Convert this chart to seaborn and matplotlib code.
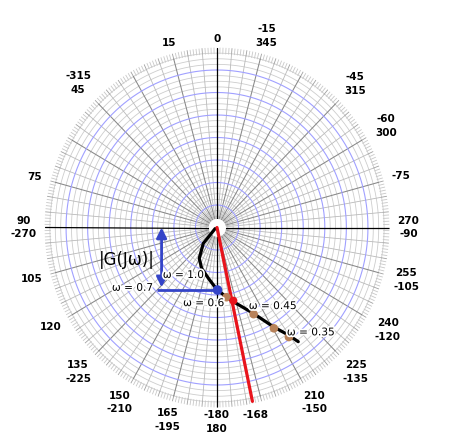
import numpy as np
import matplotlib
matplotlib.use("Agg")
import matplotlib.pyplot as plt
import matplotlib.patheffects as pe
import seaborn as sns
import pandas as pd

# ---------------- data ----------------
# Nyquist locus: phase angle (deg, measured CCW from top) and magnitude
curve_phase = [120, 136, 138, 149, 158.6, 169.9, 180.3, 188.3, 192.9, 203.8, 210.6, 214.7, 216.6]
curve_mag = [0.10, 0.47, 0.95, 1.60, 1.95, 2.29, 2.78, 3.13, 3.38, 4.17, 5.12, 5.81, 6.32]

# frequency marker points on the locus
marker_phase = [188.1, 203.8, 210.5, 214.4]
marker_mag = [3.13, 4.21, 5.20, 5.90]

# crossing with the -168 deg line
red_dot_phase = [193.1]
red_dot_mag = [3.34]
red_line_phase = [192, 192]
red_line_mag = [0.0, 7.9]

# |G(jw)| reference point
blue_dot_phase = [180.5]
blue_dot_mag = [2.78]
g_line_left = -2.80      # horizontal extent of the |G| projection line (real axis units)
g_arrow_x = -2.57        # real coordinate of the |G| double arrow
g_arrow_top = 0.0
g_arrow_bottom = -2.66

# annotation texts
w_labels = ["ω = 1.0", "ω = 0.7", "ω = 0.6", "ω = 0.45", "ω = 0.35"]
w_label_pos = [(-1.56, -2.11), (-3.92, -2.68), (-0.62, -3.36), (2.58, -3.49), (4.35, -4.66)]
g_label = "|G(Jω)|"
g_label_pos = (-4.19, -1.44)

# angular tick labels
tick_angles = [0, 15, 45, 75, 90, 105, 120, 135, 150, 165, 180, 192, 210, 225, 240,
               255, 270, 285, 300, 315, 345]
tick_labels = ["0", "15", "-315\n45", "75", "90\n-270", "105", "120", "135\n-225",
               "150\n-210", "165\n-195", "-180\n180", "-168", "210\n-150", "225\n-135",
               "240\n-120", "255\n-105", "270\n-90", "-75", "-60\n300", "-45\n315",
               "-15\n345"]

# ---------------- style ----------------
sns.set_style("white")
plt.rcParams["font.family"] = ["DejaVu Sans"]

W, H = 459, 445
fig = plt.figure(figsize=(W / 100, H / 100), dpi=100)
cx, cy = 217.0, 227.5          # centre in pixels (from top-left)
rx, ry = 172.5, 180.0          # outer radii in pixels
rect = [(cx - rx) / W, (H - cy - ry) / H, 2 * rx / W, 2 * ry / H]

ax = fig.add_axes(rect, projection="polar")
ax.set_theta_zero_location("N")
ax.set_theta_direction(1)
ax.set_aspect("auto")
ax.set_ylim(0, 8)
ax.set_xticks([])
ax.set_yticks([])
ax.grid(False)
ax.spines["polar"].set_visible(False)
ax.patch.set_alpha(0)

RMAX = 8.0
full = np.linspace(0, 2 * np.pi, 721)

# light gray circles every 0.25
for r in np.arange(0.5, 7.76, 0.25):
    if abs(r - round(r)) < 1e-6:
        continue
    ax.plot(full, np.full_like(full, r), color="#cdcdcd", lw=0.6, zorder=1)
# blue circles every 1
for r in range(1, 8):
    ax.plot(full, np.full_like(full, r), color="#a0a0ff", lw=0.8, zorder=1.5)
# spokes every 5 deg
for a in range(0, 360, 5):
    if a % 90 == 0:
        continue
    t = np.radians(a)
    if a % 15 == 0:
        ax.plot([t, t], [0.4, 7.75], color="#888888", lw=0.75, zorder=1.2)
    else:
        ax.plot([t, t], [0.4, 7.75], color="#bababa", lw=0.6, zorder=1.1)
# outer ring ticks every degree
for a in range(0, 360, 1):
    t = np.radians(a)
    col = "#a0a0a0" if a % 5 == 0 else "#c8c8c8"
    ax.plot([t, t], [7.72, 8.0], color=col, lw=0.6, zorder=1)
# main axes (black)
for a in (0, 90, 180, 270):
    t = np.radians(a)
    ax.plot([t, t], [0.38, RMAX], color="black", lw=0.9, zorder=2)
# white hole
ax.fill_between(full, 0, 0.36, color="white", zorder=2.5)

# ---------------- data marks ----------------
df_curve = pd.DataFrame({"theta": np.radians(curve_phase), "r": curve_mag})
sns.lineplot(data=df_curve, x="theta", y="r", sort=False, estimator=None,
             color="black", lw=2.3, ax=ax, zorder=3)
df_red = pd.DataFrame({"theta": np.radians(red_line_phase), "r": red_line_mag})
sns.lineplot(data=df_red, x="theta", y="r", sort=False, estimator=None,
             color="#e8141c", lw=2.3, ax=ax, zorder=4)
df_m = pd.DataFrame({"theta": np.radians(marker_phase), "r": marker_mag})
sns.scatterplot(data=df_m, x="theta", y="r", color="#b8825a", s=38,
                edgecolor="none", ax=ax, zorder=5)
df_rd = pd.DataFrame({"theta": np.radians(red_dot_phase), "r": red_dot_mag})
sns.scatterplot(data=df_rd, x="theta", y="r", color="#e8141c", s=34,
                edgecolor="none", ax=ax, zorder=6)
ax.set_xlabel("")
ax.set_ylabel("")
ax.set_ylim(0, 8)

# ---------------- cartesian overlay for straight annotations ----------------
ov = fig.add_axes(rect, zorder=5)
ov.set_xlim(-8, 8)
ov.set_ylim(-8, 8)
ov.axis("off")

blue = "#3444c8"
bth = np.radians(blue_dot_phase[0])
bx, by = -blue_dot_mag[0] * np.sin(bth), blue_dot_mag[0] * np.cos(bth)
ov.plot([g_line_left, bx], [by, by], color=blue, lw=2.0, solid_capstyle="butt", zorder=3)
ov.annotate("", xy=(g_arrow_x, g_arrow_top), xytext=(g_arrow_x, g_arrow_bottom),
            arrowprops=dict(arrowstyle="<|-|>", color=blue, lw=2.0,
                            mutation_scale=15, shrinkA=0, shrinkB=0), zorder=3)
df_b = pd.DataFrame({"x": [bx], "y": [by]})
sns.scatterplot(data=df_b, x="x", y="y", color=blue, s=48, edgecolor="none", ax=ov, zorder=4)
ov.set_xlabel("")
ov.set_ylabel("")
ov.set_xlim(-8, 8)
ov.set_ylim(-8, 8)
ov.axis("off")

halo = [pe.withStroke(linewidth=2.5, foreground="white")]
for lab, (x, y) in zip(w_labels, w_label_pos):
    ov.text(x, y, lab, ha="center", va="center", fontsize=7.6, color="black",
            path_effects=halo, zorder=6)
ov.text(g_label_pos[0], g_label_pos[1], g_label, ha="center", va="center",
        fontsize=12, color="black", zorder=6)

# ---------------- angular labels ----------------
px_per_u_x = 2 * rx / 16.0
px_per_u_y = 2 * ry / 16.0
texts = []
for a, lab in zip(tick_angles, tick_labels):
    t = np.radians(a)
    dx, dy = -np.sin(t), np.cos(t)
    txt = ov.text(RMAX * dx, RMAX * dy, lab, ha="center", va="center",
                  fontsize=7.5, fontweight="bold", color="black",
                  linespacing=1.45, multialignment="center", zorder=6)
    texts.append((txt, dx, dy))
fig.canvas.draw()
renderer = fig.canvas.get_renderer()
for txt, dx, dy in texts:
    bb = txt.get_window_extent(renderer=renderer)
    ext = abs(dx) * bb.width / 2 + abs(dy) * bb.height / 2
    gap = 3 + 5 * abs(dx)
    d = ext + gap
    x0, y0 = txt.get_position()
    txt.set_position((x0 + d * dx / px_per_u_x, y0 + d * dy / px_per_u_y))

fig.savefig("out.png", dpi=100)
